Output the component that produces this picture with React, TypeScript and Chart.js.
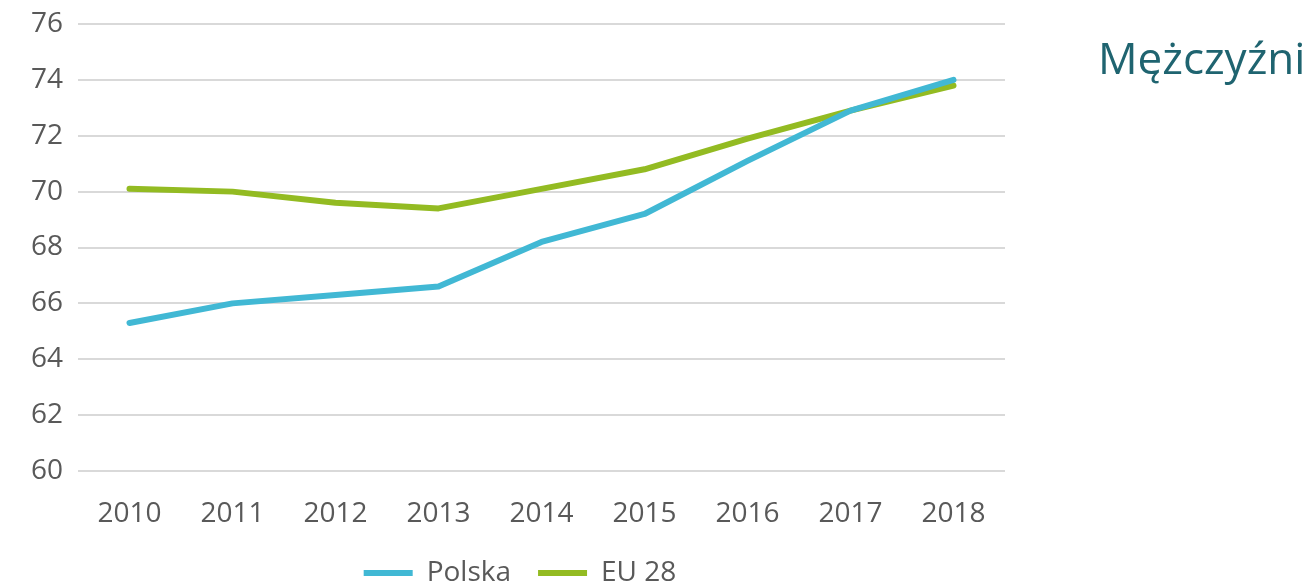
import React, { useEffect, useRef } from "react";
import { Chart, registerables } from "chart.js";

Chart.register(...registerables);

const years = ["2010", "2011", "2012", "2013", "2014", "2015", "2016", "2017", "2018"];
const polska = [65.3, 66.0, 66.3, 66.6, 68.2, 69.2, 71.1, 72.9, 74.0];
const eu28 = [70.1, 70.0, 69.6, 69.4, 70.1, 70.8, 71.9, 72.9, 73.8];
const titleText = "Mężczyźni";
const FONT = "'Open Sans', sans-serif";

const titlePlugin = {
  id: "sideTitle",
  afterLayout(chart: any) {
    if (chart.legend) {
      chart.legend.left += 35;
    }
  },
  afterDraw(chart: any) {
    const ctx = chart.ctx;
    ctx.save();
    ctx.font = `44px ${FONT}`;
    ctx.fillStyle = "#1f6470";
    ctx.textAlign = "left";
    ctx.textBaseline = "alphabetic";
    ctx.fillText(titleText, 1098, 74);
    ctx.restore();
  },
};

export default function App() {
  const ref = useRef<HTMLCanvasElement>(null);
  useEffect(() => {
    document.body.style.margin = "0";
    const chart = new Chart(ref.current!, {
      type: "line",
      data: {
        labels: years,
        datasets: [
          {
            label: "Polska",
            data: polska,
            borderColor: "#41b8d4",
            backgroundColor: "#41b8d4",
            borderWidth: 6,
            borderCapStyle: "round",
            borderJoinStyle: "round",
            pointRadius: 0,
            tension: 0,
          },
          {
            label: "EU 28",
            data: eu28,
            borderColor: "#93bb22",
            backgroundColor: "#93bb22",
            borderWidth: 6,
            borderCapStyle: "round",
            borderJoinStyle: "round",
            pointRadius: 0,
            tension: 0,
          },
        ],
      },
      options: {
        animation: false,
        responsive: false,
        maintainAspectRatio: false,
        layout: { padding: { left: 0, right: 307, top: 24, bottom: -9 } },
        plugins: {
          legend: {
            position: "bottom",
            labels: {
              usePointStyle: true,
              pointStyle: "line",
              pointStyleWidth: 49,
              boxHeight: 10,
              boxWidth: 49,
              padding: 27,
              color: "#595959",
              font: { family: FONT, size: 28 },
            },
          },
          tooltip: { enabled: false },
        },
        scales: {
          x: {
            offset: true,
            grid: { display: false },
            border: { display: false },
            ticks: { color: "#595959", font: { family: FONT, size: 28 }, padding: 18 },
            afterFit: (scale: any) => {
              scale.height = 61;
            },
          },
          y: {
            min: 60,
            max: 76,
            grid: { color: "#d9d9d9", lineWidth: 2, drawTicks: false },
            border: { display: false },
            ticks: { stepSize: 2, color: "#595959", font: { family: FONT, size: 28 }, padding: 15 },
            afterFit: (scale: any) => {
              scale.width = 78;
              scale.paddingTop = 0;
              scale.paddingBottom = 0;
            },
          },
        },
      },
      plugins: [titlePlugin],
    });
    return () => chart.destroy();
  }, []);
  return <canvas ref={ref} width={1312} height={588} style={{ display: "block" }} />;
}
